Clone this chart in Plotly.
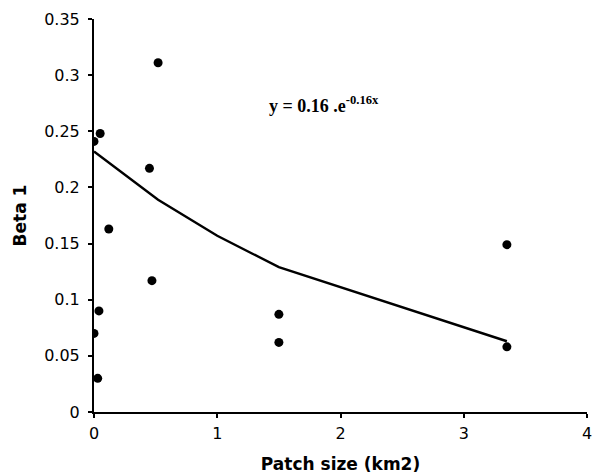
import plotly.graph_objects as go

patch_size = [0.52, 0.05, 0.0, 0.45, 0.12, 0.47, 0.04, 0.0, 0.03, 1.50, 1.50, 3.35, 3.35]
beta1 = [0.311, 0.248, 0.241, 0.217, 0.163, 0.117, 0.090, 0.070, 0.030, 0.087, 0.062, 0.149, 0.058]

trend_x = [0.0, 0.12, 0.47, 0.52, 1.0, 1.50, 3.35]
trend_y = [0.232, 0.222, 0.193, 0.189, 0.157, 0.129, 0.063]

x_ticks = [0, 1, 2, 3, 4]
y_ticks = [0, 0.05, 0.1, 0.15, 0.2, 0.25, 0.3, 0.35]
y_labels = ["0", "0.05", "0.1", "0.15", "0.2", "0.25", "0.3", "0.35"]

fig = go.Figure()
fig.add_trace(go.Scatter(x=trend_x, y=trend_y, mode="lines",
                         line=dict(color="black", width=2.4),
                         showlegend=False, hoverinfo="skip"))
fig.add_trace(go.Scatter(x=patch_size, y=beta1, mode="markers",
                         marker=dict(color="black", size=9), showlegend=False))

fig.add_annotation(x=0.35, y=0.274, xref="x domain", yref="y", xanchor="left", yanchor="middle",
                   text="<b>y = 0.16 .e<sup>-0.16x</sup></b>", showarrow=False,
                   font=dict(family="Liberation Serif", size=18, color="black"))

tick_font = dict(family="DejaVu Sans", size=16, color="black")
title_font = dict(family="DejaVu Sans", size=17, color="black")

fig.update_xaxes(range=[0, 4], tickvals=x_ticks, ticktext=[str(v) for v in x_ticks],
                 showline=True, linecolor="black", linewidth=2, ticks="outside",
                 ticklen=4, tickwidth=1.5, tickcolor="black", showgrid=False, zeroline=False,
                 automargin=False, ticklabelstandoff=2, ticklabeloverflow="allow",
                 title=dict(text="<b>Patch size (km2)</b>", font=title_font, standoff=16),
                 tickfont=tick_font)
fig.update_yaxes(range=[0, 0.35], tickvals=y_ticks, ticktext=y_labels,
                 showline=True, linecolor="black", linewidth=2, ticks="outside",
                 ticklen=4, tickwidth=1.5, tickcolor="black", showgrid=False, zeroline=False,
                 automargin=False, ticklabelstandoff=5,
                 title=dict(text="<b>Beta 1</b>", font=title_font, standoff=13),
                 tickfont=tick_font)

fig.update_layout(width=592, height=474, margin=dict(l=94, r=5, t=19, b=62),
                  plot_bgcolor="white", paper_bgcolor="white")

fig.write_html("out.html", config={"displayModeBar": False},
               post_script="document.body.style.margin='0';document.body.style.overflow='hidden';")
